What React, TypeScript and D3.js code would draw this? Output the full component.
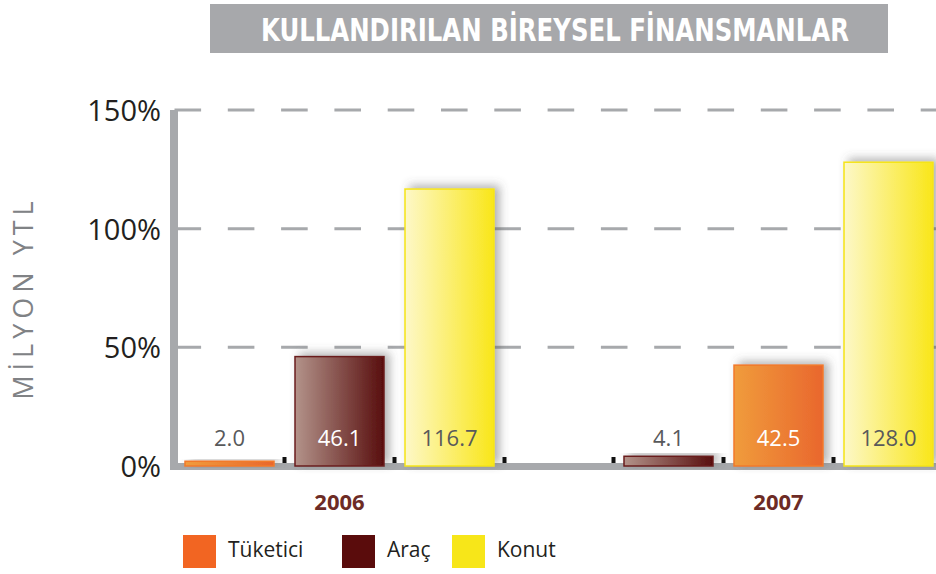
import * as d3 from 'd3';
import React from 'react';

// values
const years = ["2006", "2007"];
const seriesNames = ["Tüketici", "Araç", "Konut"];
const tuketici = [2.0, 42.5];
const arac = [46.1, 4.1];
const konut = [116.7, 128.0];
// the order of the bars inside each year, as printed
const slotOrder = [
    ["Tüketici", "Araç", "Konut"],
    ["Araç", "Tüketici", "Konut"],
];
const yTicks = [0, 50, 100, 150];
const yTickLabels = ["0%", "50%", "100%", "150%"];

const W = 936, H = 574;

const valuesOf = { "Tüketici": tuketici, "Araç": arac, "Konut": konut };
const gradId = { "Tüketici": "gT", "Araç": "gA", "Konut": "gK" };
const strokeOf = { "Tüketici": "#f27a2a", "Araç": "#6a1c1c", "Konut": "#f5e416" };
const legendColor = { "Tüketici": "#f26522", "Araç": "#5a0c0c", "Konut": "#f7e619" };

const font = "'Open Sans', 'DejaVu Sans', sans-serif";

function App() {
    const y = d3.scaleLinear().domain([0, 150]).range([466, 110]);
    const x = d3.scaleBand().domain(years).range([185, 933]).paddingInner(130 / 439);
    const inner = d3.scaleBand().domain(["0", "1", "2"]).range([0, x.bandwidth()]).paddingInner(21 / 110);
    const bw = inner.bandwidth();
    const gap = inner.step() - bw;

    const bars = [];
    years.forEach((yr, gi) => {
        slotOrder[gi].forEach((s, si) => {
            const v = valuesOf[s][gi];
            const x0 = x(yr) + inner(String(si));
            bars.push({ yr, gi, si, s, v, x0 });
        });
    });

    const legendX = [183, 342, 452];

    return (
        <svg width={W} height={H} style={{ position: "absolute", left: 0, top: 0, background: "#fff" }}>
            <defs>
                <linearGradient id="gT" x1="0" x2="1" y1="0" y2="0">
                    <stop offset="0" stopColor="#f09c3c" />
                    <stop offset="1" stopColor="#e9672d" />
                </linearGradient>
                <linearGradient id="gA" x1="0" x2="1" y1="0" y2="0">
                    <stop offset="0" stopColor="#b3938a" />
                    <stop offset="1" stopColor="#580e0e" />
                </linearGradient>
                <linearGradient id="gK" x1="0" x2="1" y1="0" y2="0">
                    <stop offset="0" stopColor="#fdf8c8" />
                    <stop offset="1" stopColor="#f9e619" />
                </linearGradient>
                <filter id="shadow" x="-30%" y="-30%" width="160%" height="160%">
                    <feDropShadow dx="5" dy="-3" stdDeviation="5" floodColor="#555" floodOpacity="0.45" />
                </filter>
            </defs>

            {/* title banner */}
            <rect x={210} y={4} width={678} height={49} fill="#a7a8ab" />
            <text x={555} y={41} textAnchor="middle" fill="#fff" fontSize={32} fontWeight="bold"
                fontFamily="'Liberation Sans Narrow', 'DejaVu Sans Condensed', sans-serif"
                textLength={588} lengthAdjust="spacingAndGlyphs">
                KULLANDIRILAN BİREYSEL FİNANSMANLAR
            </text>

            {/* grid */}
            {yTicks.filter(t => t > 0).map(t => (
                <g key={t}>
                    <line x1={178} x2={200} y1={y(t)} y2={y(t)} stroke="#a7a9ac" strokeWidth={1.5} />
                    <line x1={174.5} x2={W} y1={y(t)} y2={y(t)} stroke="#a7a9ac" strokeWidth={3}
                        strokeDasharray="26.6 26.7" />
                </g>
            ))}

            {/* axis frame */}
            <rect x={170} y={110} width={8} height={360} fill="#a7a9ac" />
            <rect x={170} y={463} width={W - 170} height={7} fill="#a7a9ac" />

            {/* bars */}
            {bars.map(b => (
                <rect key={b.yr + b.s} x={b.x0} y={y(b.v)} width={bw} height={y(0) - y(b.v)}
                    fill={`url(#${gradId[b.s]})`} stroke={strokeOf[b.s]} strokeWidth={1.5}
                    filter="url(#shadow)" />
            ))}

            {/* small tick marks between the bars */}
            {bars.map(b => {
                const tx = b.gi === 0 ? b.x0 + bw + gap / 2 : b.x0 - gap / 2;
                return <rect key={"t" + b.yr + b.s} x={tx - 2} y={457} width={4} height={6} fill="#111" />;
            })}

            {/* value labels */}
            {bars.map(b => {
                const white = b.s !== "Konut" && y(0) - y(b.v) > 40;
                return (
                    <text key={"v" + b.yr + b.s} x={b.x0 + bw / 2} y={446} textAnchor="middle"
                        fontSize={22} fontFamily={font} fill={white ? "#fff" : "#58595b"}>
                        {b.v.toFixed(1)}
                    </text>
                );
            })}

            {/* year labels */}
            {years.map(yr => (
                <text key={yr} x={x(yr) + x.bandwidth() / 2} y={510} textAnchor="middle" fontSize={22}
                    fontWeight="bold" fontFamily={font} fill="#6d2b25">{yr}</text>
            ))}

            {/* y tick labels */}
            {yTicks.map((t, i) => (
                <text key={"y" + t} x={161} y={y(t) + 11} textAnchor="end" fontSize={29}
                    fontFamily={font} fill="#231f20">{yTickLabels[i]}</text>
            ))}

            {/* y title */}
            <text transform="translate(33,298) rotate(-90)" textAnchor="middle" fontSize={27}
                fontFamily={font} fill="#808285" letterSpacing={5}>MİLYON YTL</text>

            {/* legend */}
            {seriesNames.map((s, i) => (
                <g key={"l" + s}>
                    <rect x={legendX[i]} y={535} width={33} height={33} fill={legendColor[s]} />
                    <text x={legendX[i] + 45} y={557} fontSize={21} fontFamily={font} fill="#231f20">{s}</text>
                </g>
            ))}
        </svg>
    );
}

export default App;
